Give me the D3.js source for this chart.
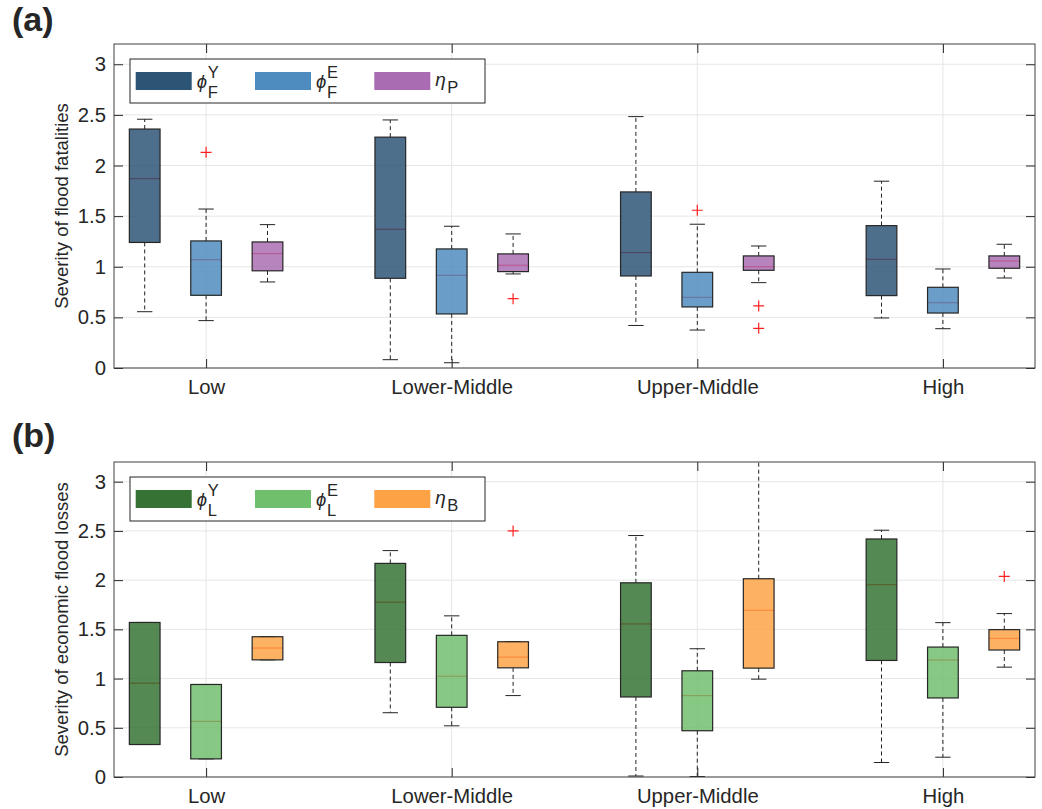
<!DOCTYPE html>
<html>
<head>
<meta charset="utf-8">
<script src="https://cdn.jsdelivr.net/npm/d3@7"></script>
<style>
    body { margin: 0; background: #fff; }
    svg { display: block; }
    text { font-family: "Liberation Sans", Arial, Helvetica, sans-serif; fill: #262626; }
</style>
</head>
<body>
<div id="chart"></div>
<script>
"use strict";

// income groups on the x axis
const categories = ["Low", "Lower-Middle", "Upper-Middle", "High"];
const yTicks = [0, 0.5, 1, 1.5, 2, 2.5, 3];

// each row = one income group: [lower whisker, Q1, median, Q3, upper whisker]
// (a) flood fatalities
const phiFY = [[0.556, 1.24, 1.87, 2.36, 2.457], [0.082, 0.886, 1.37, 2.28, 2.45],
               [0.42, 0.909, 1.14, 1.739, 2.483], [0.494, 0.715, 1.074, 1.406, 1.845]];
const phiFE = [[0.468, 0.718, 1.07, 1.255, 1.57], [0.052, 0.534, 0.916, 1.176, 1.40],
               [0.375, 0.603, 0.698, 0.945, 1.42], [0.388, 0.543, 0.645, 0.797, 0.978]];
const etaP  = [[0.85, 0.96, 1.13, 1.245, 1.416], [0.929, 0.952, 1.015, 1.127, 1.324],
               [0.843, 0.965, 1.0, 1.107, 1.205], [0.889, 0.985, 1.057, 1.107, 1.222]];
const phiFYOut = [[], [], [], []];
const phiFEOut = [[2.13], [], [1.558], []];
const etaPOut  = [[], [0.685], [0.613, 0.392], []];

// (b) economic flood losses
const phiLY = [[0.33, 0.33, 0.953, 1.57, 1.57], [0.653, 1.163, 1.776, 2.17, 2.30],
               [0.01, 0.813, 1.555, 1.973, 2.453], [0.147, 1.184, 1.953, 2.418, 2.507]];
const phiLE = [[0.184, 0.184, 0.565, 0.94, 0.94], [0.52, 0.708, 1.024, 1.439, 1.637],
               [0.005, 0.47, 0.827, 1.079, 1.303], [0.201, 0.803, 1.188, 1.32, 1.568]];
const etaB  = [[1.19, 1.19, 1.31, 1.425, 1.425], [0.827, 1.109, 1.218, 1.374, 1.374],
               [0.994, 1.106, 1.694, 2.014, 3.6], [1.116, 1.29, 1.408, 1.497, 1.66]];
const phiLYOut = [[], [], [], []];
const phiLEOut = [[], [], [], []];
const etaBOut  = [[], [2.5], [], [2.038]];

(function() {
    const width = 1042, height = 809;
    const left = 114, right = 1035;
    const offsets = [-0.25, 0, 0.25];
    const boxW = 0.125;

    const panels = [
        {
            id: "a", letter: "(a)", letterY: 31, top: 44, bottom: 368,
            ylabel: "Severity of flood fatalities",
            series: [phiFY, phiFE, etaP], outliers: [phiFYOut, phiFEOut, etaPOut],
            colors: ["#2c5475", "#4e8bbe", "#a96cb2"],
            legend: [["\u03d5", "Y", "F"], ["\u03d5", "E", "F"], ["\u03b7", "", "P"]],
            legendY: 59
        },
        {
            id: "b", letter: "(b)", letterY: 447, top: 462, bottom: 777,
            ylabel: "Severity of economic flood losses",
            series: [phiLY, phiLE, etaB], outliers: [phiLYOut, phiLEOut, etaBOut],
            colors: ["#357233", "#70bf6c", "#fda345"],
            legend: [["\u03d5", "Y", "L"], ["\u03d5", "E", "L"], ["\u03b7", "", "B"]],
            legendY: 477
        }
    ];

    window.addEventListener("load", init);

    function init() {
        const svg = d3.select("#chart").append("svg")
            .attr("width", width)
            .attr("height", height);
        panels.forEach(p => drawPanel(svg, p));
    }

    function drawPanel(svg, p) {
        const x = d3.scaleLinear().domain([0.625, 4.375]).range([left, right]);
        const y = d3.scaleLinear().domain([0, 3.2]).range([p.bottom, p.top]);
        const unit = x(1) - x(0);

        // grid
        const grid = svg.append("g");
        grid.selectAll("line.gy").data(yTicks).enter().append("line")
            .attr("x1", left).attr("x2", right)
            .attr("y1", d => y(d)).attr("y2", d => y(d))
            .attr("stroke", "#e6e6e6").attr("stroke-width", 1);
        grid.selectAll("line.gx").data([1, 2, 3, 4]).enter().append("line")
            .attr("x1", d => x(d)).attr("x2", d => x(d))
            .attr("y1", p.top).attr("y2", p.bottom)
            .attr("stroke", "#e6e6e6").attr("stroke-width", 1);

        svg.append("clipPath").attr("id", "clip" + p.id)
            .append("rect")
            .attr("x", left).attr("y", p.top)
            .attr("width", right - left).attr("height", p.bottom - p.top);
        const plot = svg.append("g").attr("clip-path", "url(#clip" + p.id + ")");

        p.series.forEach((series, si) => {
            series.forEach((st, ci) => {
                const cx = x(ci + 1 + offsets[si]);
                const hw = unit * boxW / 2;
                const cw = hw / 2;
                const b = plot.append("g");
                // whiskers
                [[st[3], st[4]], [st[1], st[0]]].forEach(w => {
                    b.append("line")
                        .attr("x1", cx).attr("x2", cx)
                        .attr("y1", y(w[0])).attr("y2", y(w[1]))
                        .attr("stroke", "#222").attr("stroke-width", 1)
                        .attr("stroke-dasharray", "4,3");
                    b.append("line")
                        .attr("x1", cx - cw).attr("x2", cx + cw)
                        .attr("y1", y(w[1])).attr("y2", y(w[1]))
                        .attr("stroke", "#222").attr("stroke-width", 1);
                });
                // median (sits under the translucent patch)
                b.append("line")
                    .attr("x1", cx - hw).attr("x2", cx + hw)
                    .attr("y1", y(st[2])).attr("y2", y(st[2]))
                    .attr("stroke", "#ff0000").attr("stroke-width", 1.2);
                b.append("rect")
                    .attr("x", cx - hw).attr("y", y(st[3]))
                    .attr("width", 2 * hw).attr("height", y(st[1]) - y(st[3]))
                    .attr("fill", p.colors[si]).attr("fill-opacity", 0.84)
                    .attr("stroke", "#262626").attr("stroke-width", 1.2);
                // outliers
                p.outliers[si][ci].forEach(v => {
                    const oy = y(v);
                    b.append("path")
                        .attr("d", `M${cx - 5.5},${oy}H${cx + 5.5}M${cx},${oy - 5.5}V${oy + 5.5}`)
                        .attr("stroke", "#ff2020").attr("stroke-width", 1.2)
                        .attr("fill", "none");
                });
            });
        });

        // axes, MATLAB style: ticks inward on all four sides
        const axL = svg.append("g").attr("transform", "translate(" + left + ",0)")
            .call(d3.axisLeft(y).tickValues(yTicks).tickFormat(d3.format("~g"))
                .tickSizeInner(-9).tickSizeOuter(0).tickPadding(8));
        const axR = svg.append("g").attr("transform", "translate(" + right + ",0)")
            .call(d3.axisRight(y).tickValues(yTicks).tickFormat("")
                .tickSizeInner(-9).tickSizeOuter(0));
        const axB = svg.append("g").attr("transform", "translate(0," + p.bottom + ")")
            .call(d3.axisBottom(x).tickValues([1, 2, 3, 4]).tickFormat(d => categories[d - 1])
                .tickSizeInner(-9).tickSizeOuter(0).tickPadding(12));
        const axT = svg.append("g").attr("transform", "translate(0," + p.top + ")")
            .call(d3.axisTop(x).tickValues([1, 2, 3, 4]).tickFormat("")
                .tickSizeInner(-9).tickSizeOuter(0));
        [axL, axR, axB, axT].forEach(a => {
            a.select(".domain").remove();
            a.selectAll(".tick line").attr("stroke", "#262626");
            a.selectAll("text").attr("font-size", "20.3px")
                .attr("font-family", "'Liberation Sans', Arial, sans-serif")
                .attr("fill", "#262626");
        });

        svg.append("rect")
            .attr("x", left).attr("y", p.top)
            .attr("width", right - left).attr("height", p.bottom - p.top)
            .attr("fill", "none").attr("stroke", "#404040").attr("stroke-width", 1);

        // y label
        svg.append("text")
            .attr("transform", "translate(68," + ((p.top + p.bottom) / 2) + ") rotate(-90)")
            .attr("text-anchor", "middle")
            .attr("font-size", "18.5px")
            .text(p.ylabel);

        // panel letter
        svg.append("text")
            .attr("x", 12).attr("y", p.letterY)
            .attr("font-size", "34px").attr("font-weight", "bold")
            .attr("fill", "#000")
            .text(p.letter);

        drawLegend(svg, p);
    }

    function drawLegend(svg, p) {
        const L = 130, T = p.legendY;
        const lg = svg.append("g");
        lg.append("rect")
            .attr("x", L).attr("y", T).attr("width", 355).attr("height", 44)
            .attr("fill", "#fff").attr("stroke", "#262626").attr("stroke-width", 1);
        p.legend.forEach((item, i) => {
            const sx = L + 5.7 + i * 119.3;
            lg.append("rect")
                .attr("x", sx).attr("y", T + 13).attr("width", 56).attr("height", 18)
                .attr("fill", p.colors[i]);
            const tx = sx + 61;
            const isEta = item[1] === "";
            lg.append("text")
                .attr("x", tx).attr("y", T + (isEta ? 27 : 28.5))
                .attr("font-family", "'DejaVu Sans', sans-serif")
                .attr("font-style", "italic")
                .attr("font-size", isEta ? "19px" : "18.5px")
                .text(item[0]);
            if (!isEta) {
                lg.append("text")
                    .attr("x", tx + 11).attr("y", T + 19)
                    .attr("font-size", "16.5px")
                    .text(item[1]);
            }
            lg.append("text")
                .attr("x", tx + (isEta ? 12 : 11)).attr("y", T + (isEta ? 33.5 : 38.5))
                .attr("font-size", "16.5px")
                .text(item[2]);
        });
    }
})();
</script>
</body>
</html>
